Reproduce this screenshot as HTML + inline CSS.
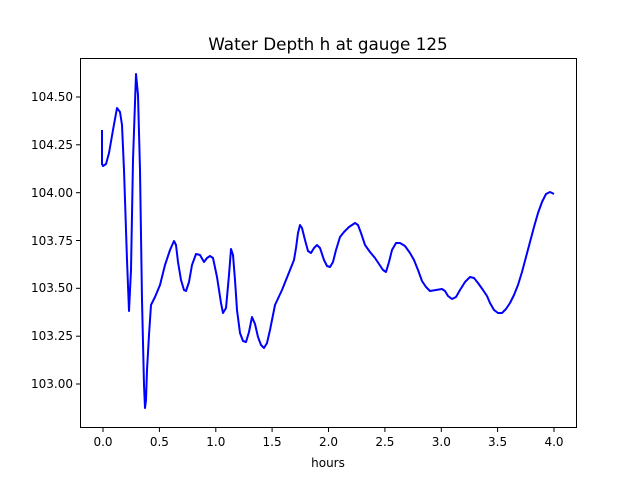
<!DOCTYPE html>
<html><head><meta charset="utf-8"><style>body{margin:0;background:#fff}svg{display:block}text{font-family:"DejaVu Sans","Liberation Sans",sans-serif;fill:#000}</style></head><body>
<svg width="640" height="480" viewBox="0 0 640 480">
<rect width="640" height="480" fill="#fff"/>
<text x="328" y="50" font-size="16.8" text-anchor="middle">Water Depth h at gauge 125</text>
<polyline fill="none" stroke="#0000ff" stroke-width="2" stroke-linejoin="round" points="102,130 102,164 103,166 106,164 109,153 113,130 117,108 120,112 122,125 124,170 127,260 129,311 131,270 133,160 136,74 138,95 140,170 142,300 144,385 145,408 146,400 147,370 149,335 151,305 155,297 160,285 165,265 170,250 174,241 176,245 178,262 181,280 184,290 186,291 189,282 192,265 196,254 200,255 204,262 207,258 210,256 213,258 217,277 221,303 223,313 226,308 229,275 231,249 233,255 235,280 237,310 240,333 243,341 246,342 249,332 252,317 255,324 258,337 261,345 264,348 267,343 270,330 275,305 282,290 290,270 294,260 296,248 298,233 300,225 302,228 305,240 308,251 311,253 314,248 317,245 320,248 324,260 327,266 330,267 333,262 336,250 340,237 344,232 349,227 355,223 358,225 361,233 365,245 370,252 375,258 379,264 383,270 386,272 389,262 392,250 396,243 400,243 405,246 410,253 414,260 418,270 422,281 426,287 430,291 436,290 442,289 445,291 448,296 452,299 456,297 460,290 465,282 470,277 474,278 478,283 483,290 487,296 490,303 494,310 498,313 502,313 506,309 510,303 514,295 518,285 522,272 526,257 530,242 534,227 538,213 542,202 546,194 550,192 554,194"/>
<rect x="80.5" y="58.5" width="496" height="369" fill="none" stroke="#000" stroke-width="1"/>
<g stroke="#000" stroke-width="1">
<line x1="103" y1="428" x2="103" y2="432"/><line x1="159.4" y1="428" x2="159.4" y2="432"/><line x1="215.8" y1="428" x2="215.8" y2="432"/><line x1="272.1" y1="428" x2="272.1" y2="432"/><line x1="328.5" y1="428" x2="328.5" y2="432"/><line x1="384.9" y1="428" x2="384.9" y2="432"/><line x1="441.3" y1="428" x2="441.3" y2="432"/><line x1="497.6" y1="428" x2="497.6" y2="432"/><line x1="554" y1="428" x2="554" y2="432"/>
<line x1="76" y1="97" x2="80" y2="97"/><line x1="76" y1="144.8" x2="80" y2="144.8"/><line x1="76" y1="192.7" x2="80" y2="192.7"/><line x1="76" y1="240.5" x2="80" y2="240.5"/><line x1="76" y1="288.3" x2="80" y2="288.3"/><line x1="76" y1="336.2" x2="80" y2="336.2"/><line x1="76" y1="384" x2="80" y2="384"/>
</g>
<g font-size="12" text-anchor="middle">
<text x="103" y="446">0.0</text><text x="159.4" y="446">0.5</text><text x="215.8" y="446">1.0</text><text x="272.1" y="446">1.5</text><text x="328.5" y="446">2.0</text><text x="384.9" y="446">2.5</text><text x="441.3" y="446">3.0</text><text x="497.6" y="446">3.5</text><text x="554" y="446">4.0</text>
<text x="328" y="467">hours</text>
</g>
<g font-size="12" text-anchor="end">
<text x="73" y="101">104.50</text><text x="73" y="149">104.25</text><text x="73" y="197">104.00</text><text x="73" y="245">103.75</text><text x="73" y="292">103.50</text><text x="73" y="340">103.25</text><text x="73" y="388">103.00</text>
</g>
</svg>
</body></html>
